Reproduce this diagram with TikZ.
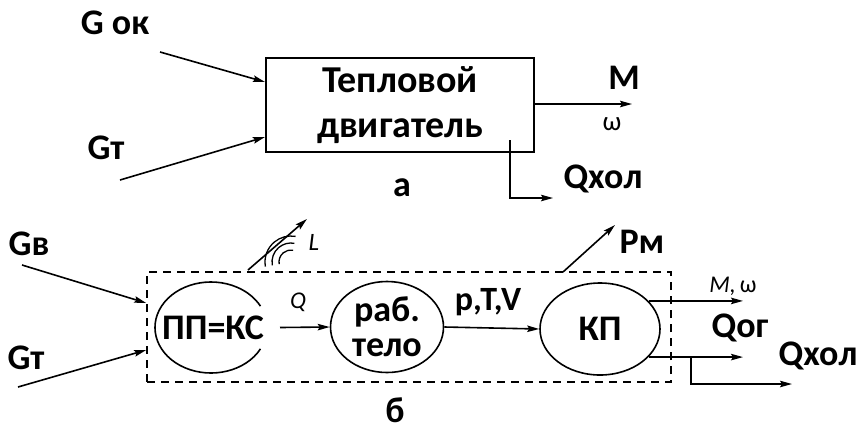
\documentclass[tikz,border=0pt]{standalone}
\usepackage{fontspec}
\setmainfont{Carlito}
\usetikzlibrary{arrows.meta}
\usetikzlibrary{shapes.geometric}

\begin{document}
\begin{tikzpicture}[x=1pt,y=-1pt,line width=1.6pt,
        flow/.style={-{Stealth[length=12pt,width=6.5pt,inset=2pt]}},
        lbl/.style={font=\fontsize{36}{36}\selectfont\bfseries,inner sep=0pt},
        small/.style={font=\fontsize{24}{24}\selectfont,inner sep=0pt},
        blob/.style={ellipse,draw,inner sep=0pt}]
    \useasboundingbox (0,0) rectangle (859,432);

    % a
    \node[draw,line width=2pt,minimum width=268pt,minimum height=94pt,align=center,
        font=\fontsize{38}{45}\selectfont\bfseries] (eng) at (400,105) {Тепловой\\двигатель};
    \node[lbl] (gok) at (115,23) {G ок};
    \node[lbl] (gt1) at (106,148) {Gт};
    \node[lbl] (m1) at (624,78) {M};
    \node[small,font=\fontsize{27}{27}\selectfont] (w1) at (612,124) {ω};
    \node[lbl] (qhol1) at (603,179) {Qхол};
    \node[lbl] (a) at (402,188) {а};
    \coordinate (gok-s) at (160,52);
    \coordinate (gt1-s) at (120,180);
    \coordinate (m1-e) at (632,104);
    \coordinate (qa-s) at (510,140);
    \coordinate (qa-e) at (553,198);
    \draw[flow] (gok-s) -- ([yshift=23pt]eng.west);
    \draw[flow] (gt1-s) -- ([yshift=-32pt]eng.west);
    \draw[flow] ([yshift=1pt]eng.east) -- (m1-e);
    \draw[flow] (qa-s) |- (qa-e);

    % b
    \node[draw,dash pattern=on 8pt off 6pt,minimum width=524pt,minimum height=110pt] (sys) at (409,327) {};
    \node[lbl,ellipse,minimum width=112pt,minimum height=91pt] (ppks) at (213,327.5) {ПП=КС};
    \draw ([shift={(28:56 and 45.5)}]211,327.5) arc[start angle=28,end angle=332,x radius=56,y radius=45.5];
    \node[blob,align=center,font=\fontsize{36}{35}\selectfont\bfseries,minimum width=113pt,minimum height=91pt] (rab) at (387,327) {раб.\\тело};
    \node[blob,lbl,minimum width=120pt,minimum height=92pt] (kp) at (600,329) {КП};

    \node[lbl] (gv) at (29,244) {Gв};
    \node[lbl] (gt2) at (26,358) {Gт};
    \node[small,font=\fontsize{24}{24}\selectfont\itshape] (q) at (298,302) {Q};
    \node[lbl,font=\fontsize{34}{34}\selectfont\bfseries] (ptv) at (488,302) {p,T,V};
    \node[lbl] (pm) at (642,242) {Pм};
    \node[small,font=\fontsize{25}{25}\selectfont\itshape] (l) at (314,242) {L};
    \node[small] (mw) at (733,286) {\itshape M,\upshape\hspace{4pt}ω};
    \node[lbl] (qog) at (740,328) {Qог};
    \node[lbl] (qhol2) at (818,356) {Qхол};
    \node[lbl] (b) at (395,410) {б};

    \coordinate (gv-s) at (22,265);
    \coordinate (gt2-s) at (18,387);
    \coordinate (l-s) at (248,270);
    \coordinate (l-e) at (307,219);
    \coordinate (pm-s) at (563,272);
    \coordinate (pm-e) at (615,225);
    \coordinate (mw-e) at (743,303);
    \coordinate (qb-k) at (691,384);
    \coordinate (qb-e) at (792,384);

    \draw[flow] (gv-s) -- ([yshift=24pt]sys.west);
    \draw[flow] (gt2-s) -- ([yshift=-23pt]sys.west);
    \draw[flow] (280,327.5) -- (rab.west);
    \draw[flow] (rab.east) -- (kp.west);
    \draw[flow] (kp.30) -- (kp.30 -| mw-e);
    \draw[flow] (kp.-30) -- (kp.-30 -| mw-e);
    \draw[flow] (qb-k |- kp.-30) |- (qb-e);
    \draw[flow] (pm-s) -- (pm-e);
    \draw[flow] (l-s) -- (l-e);
    \foreach \r in {12,19,26} {
        \draw[line width=1.3pt] ([shift={(170:\r)}]291,262) arc[start angle=170,end angle=280,radius=\r];
    }
\end{tikzpicture}
\end{document}
